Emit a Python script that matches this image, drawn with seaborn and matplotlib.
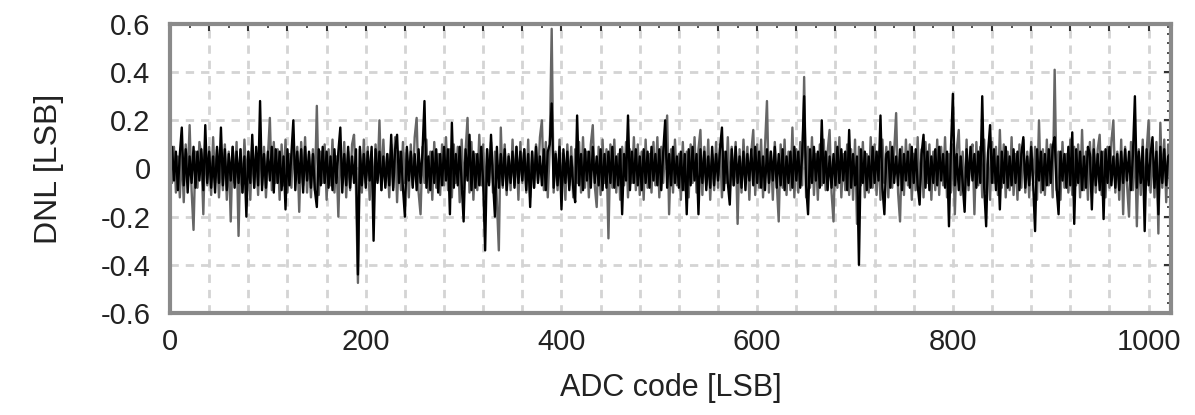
import numpy as np
import pandas as pd
import seaborn as sns
import matplotlib
matplotlib.use("Agg")
import matplotlib.pyplot as plt
from matplotlib.ticker import MultipleLocator, FuncFormatter

# ADC codes (one estimated reading every 2 codes)
adc_code = list(range(0, 1024, 2))

# DNL readings, grey trace [LSB]
dnl_grey = [
    .12, -.06, .09, -.10, .05, -.12, .08, -.14, .10, -.05, .18, -.09, -.255, .07, -.08, .11,
    .06, -.19, .12, -.07, .09, -.11, .13, -.06, .08, -.12, .05, -.09, .10, -.13, .07, -.22,
    .09, -.06, .11, -.28, .08, -.10, .12, -.05, .07, -.13, .10, -.08, .06, -.11, .13, -.07,
    .09, -.12, .05, .21, -.09, .11, -.06, .08, -.13, .10, -.07, .12, -.10, .06, -.08, .14,
    -.05, .09, -.18, .11, -.07, .13, -.10, .06, -.12, .08, -.09, .26, -.11, .07, -.06, .10,
    -.13, .08, -.07, .12, -.10, .05, -.20, .09, -.06, .11, -.12, .07, -.09, .10, .14, -.08,
    -.475, .08, -.10, .12, -.06, .09, -.13, .07, -.11, .10, -.05, .20, -.09, .12, -.07, .06,
    -.12, .10, -.08, .13, -.14, .07, -.09, .11, -.06, .08, -.12, .10, -.07, .13, .21, -.10,
    -.19, .09, -.06, .12, -.10, .07, -.13, .11, -.08, .06, -.11, .10, -.07, .13, -.09, .08,
    -.12, .10, -.06, .09, -.14, .12, -.08, .07, .21, -.10, .11, -.13, .06, -.09, .14, -.07,
    .10, -.12, .08, -.06, .11, -.10, .07, -.13, -.34, .17, -.08, .10, -.11, .06, -.09, .12,
    -.07, .09, -.13, .11, -.06, .08, -.10, .12, -.12, .07, -.08, .10, -.05, .13, .20, -.09,
    .11, -.12, .08, .58, -.10, .07, -.09, .12, -.11, .06, -.13, .10, -.07, .09, -.12, .08,
    -.06, .11, -.10, .13, -.08, .07, -.12, .10, .18, -.07, -.16, .09, -.11, .12, -.06, .08,
    -.29, .10, -.08, .12, -.10, .06, -.13, .09, -.07, .11, -.12, .08, -.06, .13, -.09, .10,
    -.11, .07, -.13, .12, -.08, .06, -.10, .11, -.07, .13, -.12, .09, -.06, .10, .22, -.19,
    .08, -.10, .12, -.07, .06, -.13, .11, -.09, .07, -.12, .10, -.06, .13, -.10, .08, .16,
    -.11, .09, -.07, .12, -.13, .06, -.09, .11, -.08, .10, -.12, .07, -.06, .13, -.10, .09,
    -.07, .11, -.23, .08, -.10, .12, -.06, .09, -.13, .07, .16, -.11, .10, -.08, .12, -.12,
    .09, .28, -.10, .07, -.13, .11, -.06, -.22, .10, -.08, .12, -.11, .07, -.09, .17, -.12,
    .08, -.10, .11, -.07, .38, -.12, .09, -.08, .13, -.11, .06, -.13, .10, -.07, .12, -.09,
    .07, .16, -.10, -.22, .11, -.08, .13, -.12, .06, -.09, .10, -.11, .08, -.13, .12, -.23,
    .09, -.07, .11, -.12, .06, -.10, .13, -.08, .10, -.11, .07, -.13, .12, -.06, .09, -.12,
    .11, -.08, .07, .23, -.10, -.22, .09, -.11, .12, -.07, .10, -.13, .06, -.09, .13, -.10,
    .08, -.12, .11, -.06, .10, -.13, .07, -.09, .12, -.11, .09, -.07, .13, -.12, .06, -.10,
    .10, -.19, .08, .16, -.11, .07, -.13, .12, -.09, .06, .10, -.19, .11, -.07, .09, -.12,
    .12, -.10, .07, -.13, .11, -.06, .09, -.11, .16, -.08, .10, -.12, .07, -.09, .13, -.11,
    .06, -.13, .10, -.08, .12, -.10, .07, -.12, .11, -.06, .09, -.13, .20, -.10, .08, -.11,
    .12, -.07, .10, -.12, .41, -.09, .07, -.13, .11, -.08, .06, -.10, .12, -.11, .09, -.07,
    .10, -.12, .16, -.09, .07, -.13, .11, -.06, .12, -.10, .08, .14, -.11, .07, -.12, .09,
    -.08, .11, .20, -.10, .07, -.13, .12, -.19, .09, -.07, -.20, .11, -.09, .13, -.24, .08,
    -.11, .12, -.13, .07, .20, -.10, .09, -.12, .11, -.27, .19, -.08, .12, -.14, .10, -.09,
]

# DNL readings, black trace [LSB]
dnl_black = [
    -.08, .09, -.05, .07, -.09, .06, .17, -.07, .08, -.10, .05, -.06, .09, -.08, .07, -.05,
    .08, -.09, .18, -.06, .07, -.08, .05, -.10, .09, -.06, .17, -.07, .08, -.09, .06, -.05,
    .09, -.08, .07, -.06, .08, -.10, .05, -.20, .07, -.06, .14, -.08, .09, -.07, .28, -.09,
    .06, -.08, .07, -.05, .09, -.10, .08, -.06, .07, -.09, .05, -.17, .08, -.07, .06, .20,
    -.09, .07, -.06, .08, -.10, .09, -.05, .07, -.08, .06, -.09, -.16, .08, -.07, .09, -.06,
    .07, -.08, .05, -.09, .08, -.06, .07, .17, -.10, .06, -.07, .09, -.08, .05, -.06, .08,
    -.44, .09, -.07, .06, -.08, .07, -.05, .09, -.30, .08, -.06, .07, -.09, .05, -.08, .06,
    -.07, .14, -.09, .08, .14, -.06, .07, -.08, -.20, .09, -.05, .07, -.08, .06, -.09, .08,
    -.06, .07, .28, -.08, .05, -.09, .07, -.06, .08, -.10, .06, -.07, .09, -.05, .08, -.19,
    .19, -.08, .06, -.07, .09, -.06, -.22, .08, -.05, .14, -.09, .07, -.08, .06, -.07, .09,
    -.06, -.34, .08, -.07, .14, -.05, -.20, .09, -.08, .06, -.07, .08, -.09, .05, -.06, .07,
    -.08, .09, -.06, .07, -.05, .08, -.09, .06, -.16, .07, -.08, .09, -.06, .05, -.07, .08,
    -.09, .07, .10, .27, -.08, .06, -.07, .09, -.17, .08, -.06, .07, -.09, .05, -.08, -.14,
    .22, -.07, .06, -.09, .08, -.05, .07, -.08, .09, -.06, .05, -.07, .08, -.09, .06, -.08,
    .07, -.06, .09, -.08, .05, -.07, .08, -.19, .06, -.05, .22, -.09, .07, -.06, .08, -.07,
    .05, -.09, .08, -.06, .07, -.08, .09, -.05, .06, -.07, .08, -.09, .07, .20, -.08, .06,
    -.07, .09, -.06, .05, -.08, .07, -.09, .06, -.19, .08, -.07, .09, -.05, .06, -.19, .08,
    -.06, .07, -.09, .05, -.08, .09, -.07, .06, -.05, .08, .17, -.09, .07, -.06, -.15, .08,
    -.07, .09, -.06, .05, -.08, .07, -.09, .06, -.05, .08, -.07, .09, -.06, .07, -.08, .05,
    -.09, .08, -.06, .07, -.05, .09, -.08, .06, -.07, .08, -.09, .05, -.06, .07, -.08, .09,
    -.05, .07, -.08, .06, .30, -.07, -.19, .08, -.06, .09, -.05, .07, -.08, .20, -.06, .07,
    -.09, .05, -.08, .06, -.07, .09, -.06, .08, -.05, .07, -.09, .16, -.08, .06, -.07, .05,
    -.40, .08, -.06, .07, -.09, .05, -.08, .09, -.06, .07, -.05, .22, -.08, -.19, .06, .07,
    -.08, .09, -.06, .05, -.07, .08, -.09, .06, -.05, .07, -.08, .09, -.06, .08, -.07, -.15,
    .06, .14, -.08, .07, -.09, .05, -.06, .08, -.07, .09, -.05, .06, -.08, .07, -.24, .08,
    .31, -.07, .06, -.09, .05, -.06, -.18, .08, -.07, .09, -.05, .06, -.08, .07, -.06, .30,
    -.08, -.24, .07, .18, -.06, .08, -.09, .05, -.17, .07, -.06, .09, -.08, .05, -.07, .08,
    -.06, .07, -.09, .06, .13, -.08, .05, -.07, .09, -.06, -.26, .08, -.05, .07, -.09, .06,
    -.07, .08, -.06, .09, .13, -.08, -.19, .07, -.05, .06, -.08, .09, -.07, .15, -.23, .08,
    -.06, .07, -.09, .05, -.08, .09, .06, -.17, .08, -.07, .06, -.09, .07, -.21, .08, -.06,
    .09, -.07, .05, -.08, .06, -.09, .07, -.06, .08, -.05, .07, -.09, .06, .30, -.08, .07,
    -.06, .09, -.26, .08, -.07, .06, .13, -.08, .07, -.19, .09, -.06, .08, -.07, .05, .06,
]

x_tick_labels = ["0", "200", "400", "600", "800", "1000"]
y_tick_labels = ["-0.6", "-0.4", "-0.2", "0", "0.2", "0.4", "0.6"]

sns.set_style("white")
plt.rcParams["font.family"] = ["Liberation Sans", "DejaVu Sans"]
plt.rcParams["axes.unicode_minus"] = False

df_grey = pd.DataFrame({"code": adc_code, "dnl": dnl_grey})
df_black = pd.DataFrame({"code": adc_code, "dnl": dnl_black})

fig = plt.figure(figsize=(11.95, 4.15), dpi=100)
ax = fig.add_axes([0.1423, 0.2458, 0.8377, 0.6964])

sns.lineplot(data=df_grey, x="code", y="dnl", color="#666666", linewidth=1.7,
             estimator=None, sort=False, ax=ax, zorder=3)
sns.lineplot(data=df_black, x="code", y="dnl", color="#000000", linewidth=1.7,
             estimator=None, sort=False, ax=ax, zorder=4)

ax.set_xlim(0, 1023)
ax.set_ylim(-0.6, 0.6)

ax.xaxis.set_major_locator(MultipleLocator(40))
ax.xaxis.set_minor_locator(MultipleLocator(20))
ax.yaxis.set_major_locator(MultipleLocator(0.2))
ax.yaxis.set_minor_locator(MultipleLocator(0.04))

xlab_map = {int(l): l for l in x_tick_labels}
ax.xaxis.set_major_formatter(FuncFormatter(
    lambda v, p: xlab_map.get(int(round(v)), "") if abs(v - round(v)) < 1e-6 else ""))
ylab_map = {round(float(l), 1): l for l in y_tick_labels}
ax.yaxis.set_major_formatter(FuncFormatter(lambda v, p: ylab_map.get(round(v, 1), "")))

ax.grid(True, which="major", color="#d4d4d4", linestyle=(0, (3, 2.5)), linewidth=2.0, zorder=1)
ax.set_axisbelow(True)

ax.tick_params(axis="both", which="both", direction="in", top=True, right=True,
               color="#333333")
ax.tick_params(axis="both", which="major", length=5, width=1.5)
ax.tick_params(axis="both", which="minor", length=3, width=1.2)
ax.tick_params(axis="y", which="major", labelsize=21, pad=14, labelcolor="#222222")
ax.tick_params(axis="x", which="major", labelsize=21, pad=11, labelcolor="#222222")

for s in ax.spines.values():
    s.set_color("#8a8a8a")
    s.set_linewidth(3)
    s.set_zorder(5)

ax.set_ylabel("DNL [LSB]", fontsize=23, color="#222222", labelpad=26)
ax.set_xlabel("ADC code [LSB]", fontsize=22, color="#222222", labelpad=12)

fig.savefig("out.png", dpi=100)
